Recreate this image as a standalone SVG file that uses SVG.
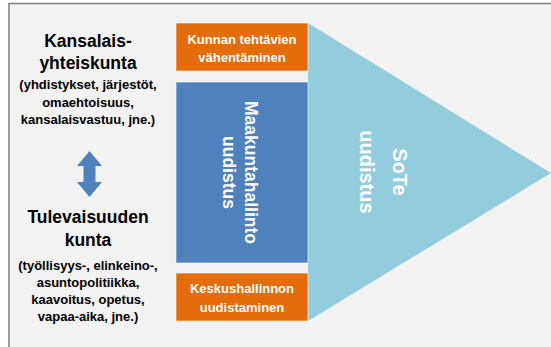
<svg xmlns="http://www.w3.org/2000/svg" width="551" height="347" viewBox="0 0 551 347">
<style>
  text { font-family: "Liberation Sans", Arial, sans-serif; font-weight: bold; }
  .big { font-size: 17.5px; fill: #000; text-anchor: middle; }
  .small { font-size: 13px; fill: #000; text-anchor: middle; }
  .wt { font-size: 13px; fill: #fff; text-anchor: middle; }
  .orange { fill: #e46c0a; stroke: #ffffff; stroke-width: 0.6; }
  .blue { fill: #4f81bd; stroke: #ffffff; stroke-width: 0.6; }
  .rot { fill: #fff; text-anchor: middle; }
</style>
<rect x="0" y="0" width="551" height="347" fill="#ffffff"/>
<rect x="9" y="3.5" width="560" height="360" fill="#f2f2f2" stroke="#7f7f7f" stroke-width="1.5"/>

<g id="sote">
  <polygon points="308,23 551,173 308,321" fill="#93cddd"/>
  <g transform="translate(393,172) rotate(90)">
    <text class="rot" x="0" y="0" font-size="20">SoTe</text>
    <text class="rot" x="0" y="33" font-size="20">uudistus</text>
  </g>
</g>

<g id="kunnan">
  <rect class="orange" x="176" y="23" width="132" height="48"/>
  <text class="wt" x="242" y="43.5">Kunnan tehtävien</text>
  <text class="wt" x="242" y="62">vähentäminen</text>
</g>

<g id="maakunta">
  <rect class="blue" x="176" y="82" width="132" height="181"/>
  <g transform="translate(245,172.5) rotate(90)">
    <text class="rot" x="0" y="0" font-size="17.5">Maakuntahallinto</text>
    <text class="rot" x="0" y="22" font-size="17.5">uudistus</text>
  </g>
</g>

<g id="keskus">
  <rect class="orange" x="176" y="273" width="132" height="48"/>
  <text class="wt" x="242" y="293">Keskushallinnon</text>
  <text class="wt" x="242" y="312">uudistaminen</text>
</g>

<g id="kansalais">
  <text class="big" x="88" y="47">Kansalais-</text>
  <text class="big" x="88" y="69">yhteiskunta</text>
  <text class="small" x="88" y="89">(yhdistykset, järjestöt,</text>
  <text class="small" x="88" y="107">omaehtoisuus,</text>
  <text class="small" x="88" y="124">kansalaisvastuu, jne.)</text>
</g>

<g id="tulevaisuus">
  <text class="big" x="88" y="223">Tulevaisuuden</text>
  <text class="big" x="88" y="246">kunta</text>
  <text class="small" x="88" y="270">(työllisyys-, elinkeino-,</text>
  <text class="small" x="88" y="287">asuntopolitiikka,</text>
  <text class="small" x="88" y="304">kaavoitus, opetus,</text>
  <text class="small" x="88" y="321">vapaa-aika, jne.)</text>
</g>

<g id="connectors">
  <polygon points="89.5,151 102,166 95.5,166 95.5,182 102,182 89.5,197 77,182 83.5,182 83.5,166 77,166" fill="#4f81bd"/>
</g>
</svg>
